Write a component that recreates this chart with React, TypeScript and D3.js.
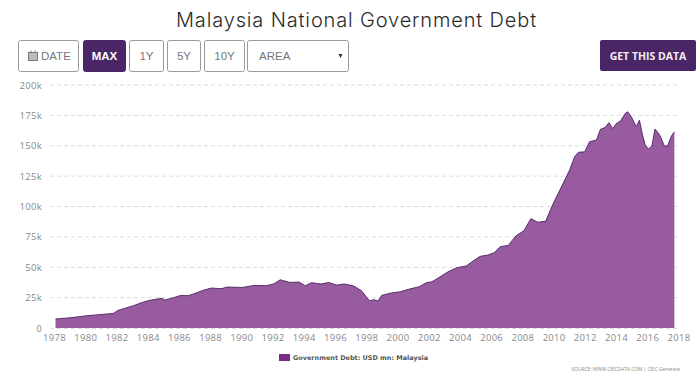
import React from "react";
import * as d3 from "d3";

const titleText = "Malaysia National Government Debt";
const years = [1978,1979,1980,1981,1981.7,1982,1983,1983.5,1984,1984.8,1985,1985.5,1986,1986.5,1987,1987.5,1988,1988.6,1989,1990,1990.7,1991.5,1992,1992.4,1993,1993.6,1994,1994.4,1995,1995.5,1996,1996.5,1997.1,1997.6,1998.1,1998.4,1998.65,1998.9,1999.5,2000.1,2000.6,2001.3,2001.75,2002.1,2002.3,2003.15,2003.7,2004.3,2004.85,2005.2,2005.7,2006.1,2006.5,2007,2007.5,2008,2008.45,2008.9,2009.4,2009.9,2010.4,2010.93,2011.25,2011.5,2011.9,2012.2,2012.65,2012.9,2013.2,2013.45,2013.7,2013.9,2014.2,2014.5,2014.65,2014.9,2015.2,2015.4,2015.6,2015.77,2015.97,2016.2,2016.4,2016.7,2017,2017.2,2017.45,2017.64];
const debt = [7.4,8.5,10.1,11.2,12,14.5,18.4,20.8,22.7,24.4,23,24.7,26.8,26.6,28.8,31.2,32.9,32.3,33.7,33.4,35,34.8,36.4,39.7,37.5,37.8,34.8,37.3,36.2,37.5,35.3,36.2,34.6,30.7,22.5,23.3,22.2,26.9,28.8,29.9,31.8,34,37.3,38,39.5,46.3,49.6,51,56,59,60,62,67,68,76,80,90,87,88,103,116,130,141,144.6,145,153.3,154.7,163.5,165,169,164,168,170.6,176.7,178,173.4,165.7,171,158.8,150.6,147.3,149.8,163.8,158.8,149.8,149.8,158,161.5];
const yTicks = [0,25,50,75,100,125,150,175,200];
const xTicks = d3.range(1978,2019,2);
const buttons = [
  {label:"MAX",x:83,w:42,active:true},
  {label:"1Y",x:129,w:34,active:false},
  {label:"5Y",x:167,w:33,active:false},
  {label:"10Y",x:204,w:40,active:false},
];
const legendText = "Government Debt: USD mn: Malaysia";
const sourceText = "SOURCE: WWW.CEICDATA.COM | CEIC Generate";
const purple = "#4b2667";
const ui = "'Liberation Sans', sans-serif";
const tickFont = "'Open Sans', sans-serif";

export default function App() {
  const x = d3.scaleLinear().domain([1978,2018]).range([54.5,679]);
  const y = d3.scaleLinear().domain([0,200]).range([328,85]);
  const pts = years.map((t,i)=>[t,debt[i]] as [number,number]);
  const area = d3.area<[number,number]>().x(d=>x(d[0])+1).y0(y(0)).y1(d=>y(d[1]))(pts) as string;
  const line = d3.line<[number,number]>().x(d=>x(d[0])+1).y(d=>y(d[1]))(pts) as string;
  return (
    <svg width={700} height={376} style={{position:"absolute",left:0,top:0,background:"#fff"}}>
      <text x={356.5} y={27} textAnchor="middle" fontFamily="Inter, sans-serif" fontWeight={300} fontSize={20} letterSpacing={.85} fill="#2b2b2b">{titleText}</text>

      <rect x={18.5} y={40.5} width={60} height={31} rx={2} fill="#fff" stroke="#9a9a9a"/>
      <g stroke="#777" fill="#999" strokeWidth={1}>
        <rect x={28.5} y={52.5} width={9} height={8} fill="#bbb"/>
        <line x1={31} y1={50.5} x2={31} y2={53}/>
        <line x1={35} y1={50.5} x2={35} y2={53}/>
      </g>
      <text x={41} y={60} fontFamily={ui} fontSize={11.5} fill="#777">DATE</text>
      {buttons.map(b=>(
        <g key={b.label}>
          <rect x={b.x+.5} y={40.5} width={b.w} height={31} rx={2} fill={b.active?purple:"#fff"} stroke={b.active?purple:"#9a9a9a"}/>
          <text x={b.x+b.w/2+.5} y={60} textAnchor="middle" fontFamily={ui} fontSize={11.5} fontWeight={b.active?700:400} fill={b.active?"#fff":"#777"}>{b.label}</text>
        </g>
      ))}
      <rect x={247.5} y={40.5} width={101} height={31} rx={2} fill="#fff" stroke="#9a9a9a"/>
      <text x={259} y={60} fontFamily={ui} fontSize={11.5} fill="#777">AREA</text>
      <path d={d3.line()([[338.5,54],[342.5,54],[340.5,58]]) + "Z"} fill="#333"/>
      <rect x={600} y={40} width={96} height={31} rx={2} fill={purple}/>
      <text x={648} y={60} textAnchor="middle" fontFamily={tickFont} fontSize={10.5} fontWeight={700} fill="#f2ecf5">GET THIS DATA</text>

      {yTicks.map(t=>(
        <g key={t}>
          {t>0 && <line x1={50} x2={680} y1={y(t)} y2={y(t)} stroke="#dcdcdc" strokeDasharray="4 3"/>}
          <text x={42} y={y(t)+3.5} textAnchor="end" fontFamily={tickFont} fontSize={9.5} letterSpacing={.3} fill="#888">{t===0?"0":`${t}k`}</text>
        </g>
      ))}
      <path d={area} fill="#7b2d85" fillOpacity={.78}/>
      <path d={line} fill="none" stroke="#4b2060" strokeWidth={.9}/>
      <line x1={50} x2={680} y1={y(0)+.5} y2={y(0)+.5} stroke="#dcdcdc" strokeDasharray="4 3"/>
      {xTicks.map(t=>(
        <text key={t} x={x(t)} y={341} textAnchor="middle" fontFamily={tickFont} fontSize={9.5} letterSpacing={.3} fill="#888">{t}</text>
      ))}
      <rect x={279} y={354} width={11} height={7} fill="#7b2d85"/>
      <text x={293} y={360} fontFamily="'DejaVu Sans', sans-serif" fontWeight={700} fontSize={6.47} fill="#555">{legendText}</text>
      <text x={680} y={371} textAnchor="end" fontFamily={tickFont} fontSize={4.85} fill="#888">{sourceText}</text>
    </svg>
  );
}
